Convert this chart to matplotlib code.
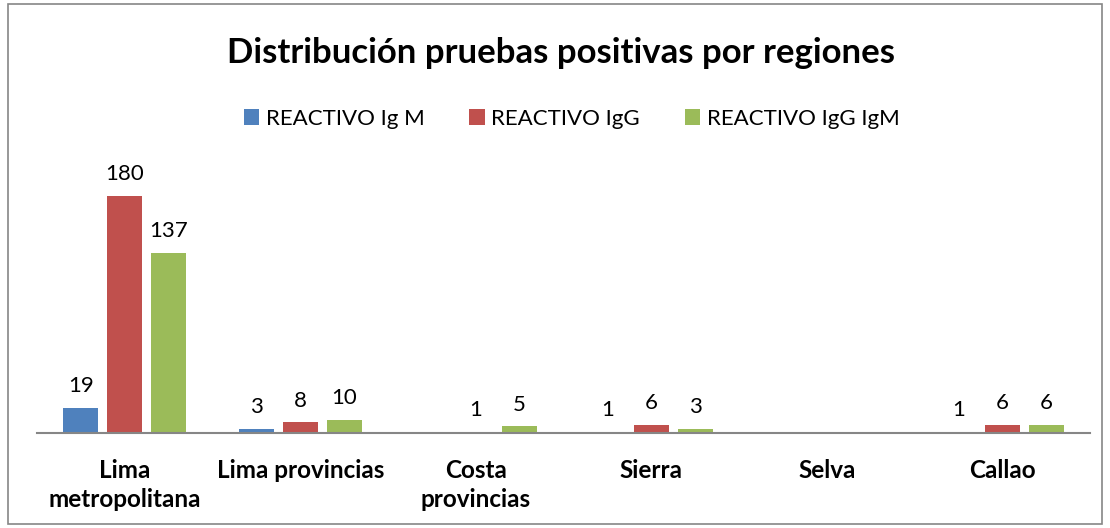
import matplotlib.pyplot as plt
import numpy as np
from matplotlib.patches import Rectangle

# data (None = no bar / no label)
regiones = ['Lima\nmetropolitana', 'Lima provincias', 'Costa\nprovincias',
            'Sierra', 'Selva', 'Callao']
igm = [19, 3, None, 1, None, 1]
igg = [180, 8, 1, 6, None, 6]
igg_igm = [137, 10, 5, 3, None, 6]

series = [
    ('REACTIVO Ig M', igm, '#4F81BD'),
    ('REACTIVO IgG', igg, '#C0504D'),
    ('REACTIVO IgG IgM', igg_igm, '#9BBB59'),
]

plt.rcParams['font.family'] = ['Lato', 'DejaVu Sans']

fig = plt.figure(figsize=(11.1, 5.28), dpi=100)
ax = fig.add_axes([0.0333, 0.180, 0.9487, 0.498])

x = np.arange(len(regiones))
width = 0.2
offsets = [-0.25, 0, 0.25]
for (name, vals, color), off in zip(series, offsets):
    h = [v if v is not None else 0 for v in vals]
    bars = ax.bar(x + off, h, width, color=color, label=name)
    for b, v in zip(bars, vals):
        if v is None:
            continue
        ax.text(b.get_x() + b.get_width() / 2, v + 9, str(v),
                ha='center', va='bottom', fontsize=16)

ax.set_xlim(-0.5, len(regiones) - 0.5)
ax.set_ylim(0, 200)
ax.set_yticks([])
ax.set_xticks(x)
ax.set_xticklabels(regiones, fontsize=17.5, fontweight='bold', va='top',
                   linespacing=1.3)
ax.tick_params(axis='x', length=0, pad=19)
for s in ['top', 'right', 'left']:
    ax.spines[s].set_visible(False)
ax.spines['bottom'].set_color('#868686')
ax.spines['bottom'].set_linewidth(1.5)

fig.text(0.505, 0.90, 'Distribución pruebas positivas por regiones',
         ha='center', va='center', fontsize=25, fontweight='bold')
fig.legend(loc='center', bbox_to_anchor=(0.515, 0.775), ncol=3, frameon=False,
           fontsize=16, handlelength=0.7, handleheight=0.7, handletextpad=0.3,
           columnspacing=2.0)

fig.patches.append(Rectangle((8 / 1110, 4 / 528), 1094 / 1110, 520 / 528,
                             transform=fig.transFigure, fill=False,
                             edgecolor='#868686', linewidth=1.2))

fig.savefig('out.png', dpi=100)
